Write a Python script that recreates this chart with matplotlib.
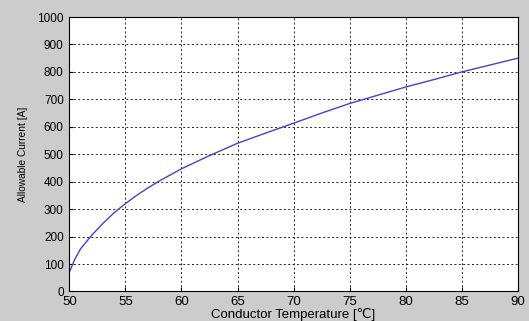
import matplotlib
matplotlib.use("Agg")
import matplotlib.pyplot as plt

temps = [50, 50.5, 51, 52, 53, 54, 55, 56, 57, 58, 60, 62.5, 65, 67.5, 70, 72.5, 75, 77.5, 80, 82.5, 85, 87.5, 90]
current = [70, 118, 155, 205, 248, 287, 320, 350, 377, 402, 447, 495, 540, 577, 613, 650, 685, 715, 745, 772, 800, 825, 850]
xticks = [50, 55, 60, 65, 70, 75, 80, 85, 90]
yticks = [0, 100, 200, 300, 400, 500, 600, 700, 800, 900, 1000]

plt.rcParams['font.family'] = ['Liberation Sans', 'DejaVu Sans']
fig = plt.figure(figsize=(5.29, 3.21), dpi=100, facecolor='#cccccc')
ax = fig.add_axes([0.131, 0.092, 0.848, 0.855])
ax.plot(temps, current, color='#4a40c8', lw=1.0)
ax.set_xlim(50, 90)
ax.set_ylim(0, 1000)
ax.set_xticks(xticks)
ax.set_yticks(yticks)
ax.grid(True, color='#222222', linestyle=(0, (2, 2.5)), lw=0.7)
ax.tick_params(direction='in', length=3)
ax.tick_params(axis='x', labelsize=9.5, pad=3)
ax.tick_params(axis='y', labelsize=8.5, pad=4)
for s in ax.spines.values():
    s.set_linewidth(0.8)
ax.set_xlabel('Conductor Temperature [℃]', fontsize=9.5, labelpad=0)
ax.set_ylabel('Allowable Current [A]', fontsize=7.3, labelpad=7)
fig.savefig('out.png', dpi=100, facecolor=fig.get_facecolor())
